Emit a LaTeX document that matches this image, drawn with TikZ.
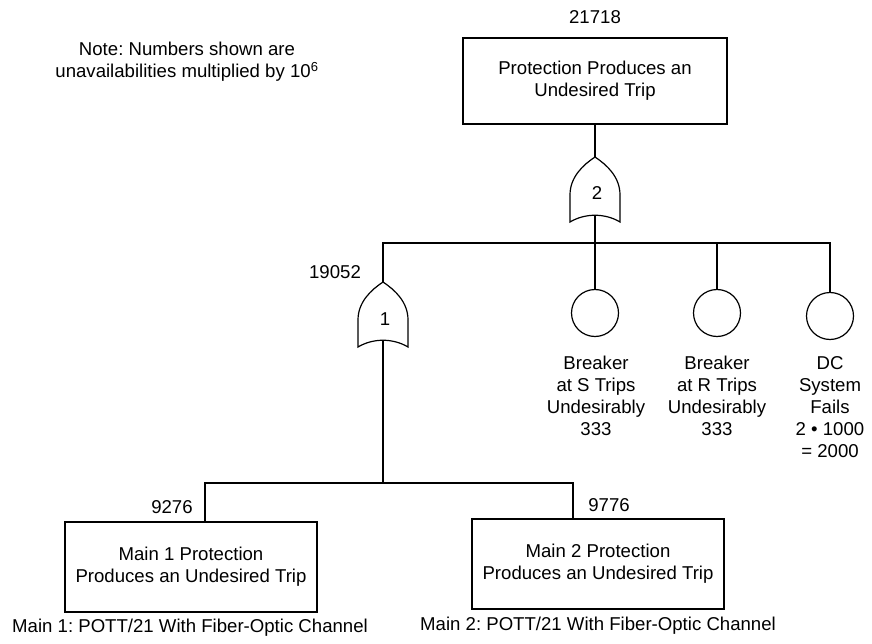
\documentclass[tikz,border=0pt]{standalone}
\usepackage{fontspec}
\setmainfont{Liberation Sans}
\frenchspacing
\usetikzlibrary{positioning}
\tikzset{
  every node/.style={font=\fontsize{18.6}{22}\selectfont\frenchspacing, inner sep=0pt},
  evbox/.style={draw, line width=1.2pt, align=center, minimum width=252pt, minimum height=90pt},
  basic/.style={draw, circle, line width=1.2pt, minimum size=47pt},
  lbl/.style={align=center},
  conn/.style={line width=1.2pt},
  pics/orgate/.style={code={
    \draw[line width=1.2pt] (-25,65) -- (-25,38)
      .. controls (-25,20) and (-12,8) .. (0,0)
      .. controls (12,8) and (25,20) .. (25,38) -- (25,65)
      .. controls (10,56) and (-10,56) .. cycle;
    \coordinate (-top) at (0,0);
    \coordinate (-bot) at (0,59);
  }}
}
\begin{document}
\begin{tikzpicture}[x=1pt,y=-1pt]
\useasboundingbox (0,0) rectangle (872,644);
% note
\node[lbl] (note) at (187,62) {Note: Numbers shown are\\unavailabilities multiplied by 10\textsuperscript{6}};
% top event
\node[evbox, minimum width=264pt, minimum height=86pt] (top) at (595,81) {Protection Produces an\\Undesired Trip};
\node (v0) at (595,17) {21718};
% gate 2
\pic (g2) at (595,157) {orgate};
\node (g2l) at (597,193) {2};
\coordinate (bar) at (595,243);
% gate 1
\pic (g1) at (383,282) {orgate};
\node (g1l) at (385,319) {1};
\node (v1) at (335,272) {19052};
% basic events
\node[basic] (c1) at (595,313) {};
\node[basic] (c2) at (717,313) {};
\node[basic] (c3) at (830,316) {};
\node[lbl, anchor=north] (t1) at (596,356) {Breaker\\at S Trips\\Undesirably\\333};
\node[lbl, anchor=north] (t2) at (717,356) {Breaker\\at R Trips\\Undesirably\\333};
\node[lbl, anchor=north] (t3) at (830,356) {DC\\System\\Fails\\2 • 1000\\= 2000};
% bottom events
\coordinate (bar2) at (383,483);
\node[evbox] (m1) at (191,567) {Main 1 Protection\\Produces an Undesired Trip};
\node[evbox] (m2) at (598,564) {Main 2 Protection\\Produces an Undesired Trip};
\node (v2) at (172,507) {9276};
\node (v3) at (609,505) {9776};
\node (cap1) at (190,628) {Main 1: POTT/21 With Fiber-Optic Channel};
\node (cap2) at (598,626) {Main 2: POTT/21 With Fiber-Optic Channel};
% connectors
\draw[conn] (top.south) -- (g2-top);
\draw[conn] (g2-bot) -- (c1.north);
\draw[conn] (g1-top) |- (bar);
\draw[conn] (bar) -| (c3.north);
\draw[conn] (c2.north) -- (c2.north |- bar);
\draw[conn] (g1-bot) -- (bar2);
\draw[conn] (bar2) -| ([xshift=14pt]m1.north);
\draw[conn] (bar2) -| ([xshift=-25pt]m2.north);
\end{tikzpicture}
\end{document}
